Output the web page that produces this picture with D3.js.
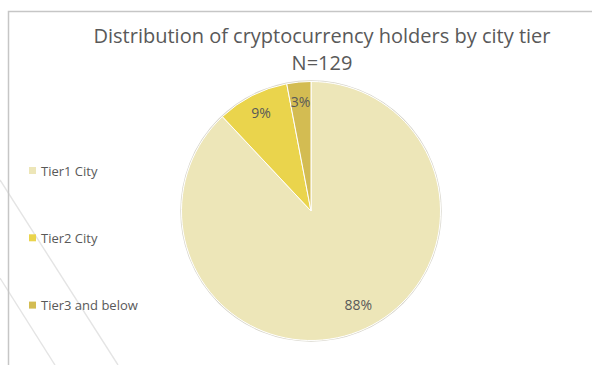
<!DOCTYPE html>
<html>
<head>
<meta charset="utf-8">
<script src="https://cdn.jsdelivr.net/npm/d3@7"></script>
<style>
  html, body { margin: 0; padding: 0; background: #ffffff; }
  svg { display: block; }
  text { font-family: "Open Sans", "Liberation Sans", sans-serif; }
</style>
</head>
<body>
<div id="chart"></div>
<script>
// Chart data
const categories = ["Tier1 City", "Tier2 City", "Tier3 and below"];
const shares = [88, 9, 3];               // percent of holders
const sliceColors = ["#ede6b8", "#ead44c", "#d3bc52"];
const titleLines = ["Distribution of cryptocurrency holders by city tier", "N=129"];

const width = 592, height = 365;
const cx = 311, cy = 211, radius = 129.5;

const svg = d3.select("#chart").append("svg")
  .attr("width", width)
  .attr("height", height);

// faint decorative strokes behind the chart
const deco = svg.append("g")
  .attr("stroke", "#e4e4e4")
  .attr("stroke-width", 1.4)
  .attr("fill", "none");
deco.append("line").attr("x1", 0).attr("y1", 180).attr("x2", 118).attr("y2", 365);
deco.append("line").attr("x1", 0).attr("y1", 278).attr("x2", 55).attr("y2", 365);

// chart frame
svg.append("path")
  .attr("d", `M8.5,${height} V11.5 H${width}`)
  .attr("fill", "none")
  .attr("stroke", "#c6c6c6")
  .attr("stroke-width", 1.5);

// title
const title = svg.append("text")
  .attr("x", 322)
  .attr("y", 43)
  .attr("text-anchor", "middle")
  .attr("fill", "#595959")
  .attr("font-size", 20);
title.selectAll("tspan")
  .data(titleLines)
  .join("tspan")
  .attr("x", 322)
  .attr("dy", (d, i) => i === 0 ? 0 : 27)
  .text(d => d);

// pie
const color = d3.scaleOrdinal().domain(categories).range(sliceColors);
const pie = d3.pie().sort(null).value(d => d.value);
const arcs = pie(categories.map((c, i) => ({ name: c, value: shares[i] })));
const arc = d3.arc().innerRadius(0).outerRadius(radius);
const labelArc = d3.arc().innerRadius(110).outerRadius(110);

const g = svg.append("g").attr("transform", `translate(${cx},${cy})`);

g.append("circle")
  .attr("r", radius + 0.6)
  .attr("fill", "none")
  .attr("stroke", "#d8d6cc")
  .attr("stroke-width", 1.2);

g.selectAll("path.slice")
  .data(arcs)
  .join("path")
  .attr("class", "slice")
  .attr("d", arc)
  .attr("fill", d => color(d.data.name))
  .attr("stroke", "#ffffff")
  .attr("stroke-width", 1);

// value labels sit near the outer rim; the large slice's label is set a
// little toward the bottom so it stays clear of the rim
g.selectAll("text.value")
  .data(arcs)
  .join("text")
  .attr("class", "value")
  .attr("transform", d => {
    const span = d.endAngle - d.startAngle;
    const a = span > Math.PI ? (d.startAngle + d.endAngle) / 2 - 0.09 : (d.startAngle + d.endAngle) / 2;
    const r = span > Math.PI ? 105 : 110;
    return `translate(${r * Math.sin(a)},${-r * Math.cos(a)})`;
  })
  .attr("text-anchor", "middle")
  .attr("dominant-baseline", "central")
  .attr("fill", "#595959")
  .attr("font-size", 14)
  .text(d => d.data.value + "%");

// legend
const legend = svg.append("g").attr("transform", "translate(29,170.5)");
const rows = legend.selectAll("g")
  .data(categories)
  .join("g")
  .attr("transform", (d, i) => `translate(0,${i * 67.3})`);
rows.append("rect")
  .attr("x", 0).attr("y", -3.5)
  .attr("width", 7).attr("height", 7)
  .attr("fill", d => color(d));
rows.append("text")
  .attr("x", 12)
  .attr("y", 0)
  .attr("dominant-baseline", "central")
  .attr("fill", "#595959")
  .attr("font-size", 13)
  .text(d => d);
</script>
</body>
</html>
